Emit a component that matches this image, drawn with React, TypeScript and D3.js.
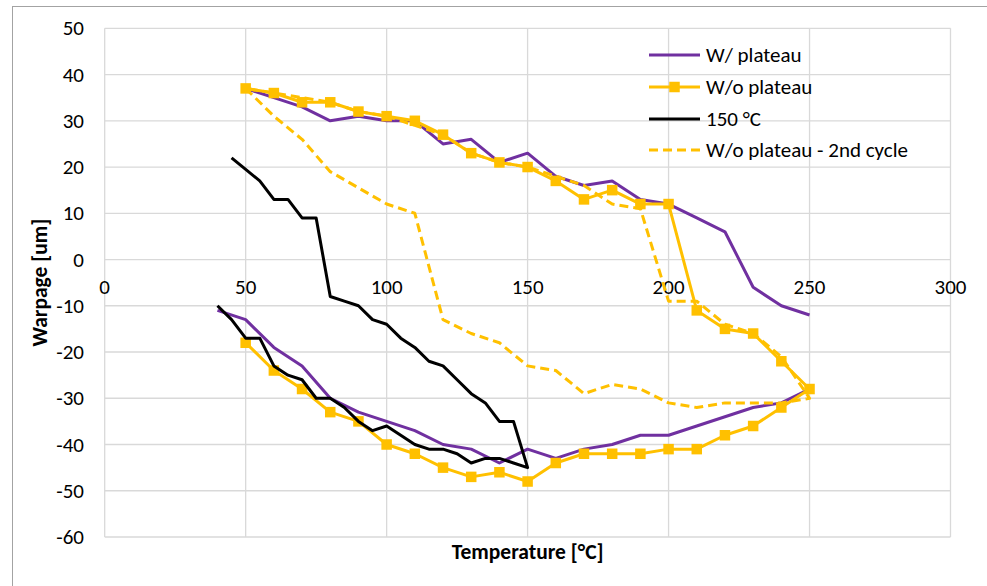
import React from 'react';
import * as d3 from 'd3';

const WIDTH = 987;
const HEIGHT = 586;

// Axis ticks
const xTicks = [0, 50, 100, 150, 200, 250, 300];
const yTicks = [-60, -50, -40, -30, -20, -10, 0, 10, 20, 30, 40, 50];

// W/ plateau (two branches, not joined)
const plateauLowerT = [40, 50, 60, 70, 80, 90, 100, 110, 120, 130, 140, 150, 160, 170, 180, 190, 200, 210, 220, 230, 240, 250];
const plateauLowerW = [-11, -13, -19, -23, -30, -33, -35, -37, -40, -41, -44, -41, -43, -41, -40, -38, -38, -36, -34, -32, -31, -28];
const plateauUpperT = [50, 60, 70, 80, 90, 100, 110, 120, 130, 140, 150, 160, 170, 180, 190, 200, 210, 220, 230, 240, 250];
const plateauUpperW = [37, 35, 33, 30, 31, 30, 30, 25, 26, 21, 23, 18, 16, 17, 13, 12, 9, 6, -6, -10, -12];

// W/o plateau
const noPlateauT = [50, 60, 70, 80, 90, 100, 110, 120, 130, 140, 150, 160, 170, 180, 190, 200, 210, 220, 230, 240, 250];
const noPlateauUpperW = [37, 36, 34, 34, 32, 31, 30, 27, 23, 21, 20, 17, 13, 15, 12, 12, -11, -15, -16, -22, -28];
const noPlateauLowerW = [-18, -24, -28, -33, -35, -40, -42, -45, -47, -46, -48, -44, -42, -42, -42, -41, -41, -38, -36, -32, -28];

// 150 °C
const peak150LowerT = [40, 45, 50, 55, 60, 65, 70, 75, 80, 85, 90, 95, 100, 105, 110, 115, 120, 125, 130, 135, 140, 145, 150];
const peak150LowerW = [-10, -13, -17, -17, -23, -25, -26, -30, -30, -32, -35, -37, -36, -38, -40, -41, -41, -42, -44, -43, -43, -44, -45];
const peak150UpperT = [150, 145, 140, 135, 130, 125, 120, 115, 110, 105, 100, 95, 90, 85, 80, 75, 70, 65, 60, 55, 50, 45];
const peak150UpperW = [-45, -35, -35, -31, -29, -26, -23, -22, -19, -17, -14, -13, -10, -9, -8, 9, 9, 13, 13, 17, 19.5, 22];

// W/o plateau - 2nd cycle
const cycle2OutT = [50, 60, 70, 80, 90, 100, 110, 120, 130, 140, 150, 160, 170, 180, 190, 200, 210, 220, 230, 240, 250];
const cycle2OutW = [37, 31, 26, 19, 15.5, 12, 10, -13, -16, -18, -23, -24, -29, -27, -28, -31, -32, -31, -31, -31, -30];
const cycle2BackT = [240, 230, 220, 210, 200, 190, 180, 170, 160, 150, 140, 130, 120, 110, 100, 90, 80, 70, 60, 50];
const cycle2BackW = [-21, -16, -14, -9, -9, 11, 12, 16, 18, 20, 21, 23, 27, 29, 31, 32, 34, 35, 36, 37];

const legendLabels = ['W/ plateau', 'W/o plateau', '150 °C', 'W/o plateau - 2nd cycle'];

const PURPLE = '#7030A0';
const GOLD = '#FFC000';
const BLACK = '#000000';
const GRID = '#d9d9d9';
const FONT = 'Carlito, Calibri, Lato, sans-serif';

type Pt = [number, number] | null;

const zip = (t: number[], w: number[]): Pt[] => t.map((v, i) => [v, w[i]] as [number, number]);

export default function App() {
  const left = 104.7;
  const right = 950.5;
  const top = 28.3;
  const bottom = 537;

  const x = d3.scaleLinear().domain([0, 300]).range([left, right]);
  const y = d3.scaleLinear().domain([-60, 50]).range([bottom, top]);

  const line = d3
    .line<Pt>()
    .defined((d) => d !== null)
    .x((d) => x((d as [number, number])[0]))
    .y((d) => y((d as [number, number])[1]));

  const plateauPts: Pt[] = [...zip(plateauLowerT, plateauLowerW), null, ...zip(plateauUpperT, plateauUpperW)];
  const noPlateauPts: Pt[] = [
    ...zip(noPlateauT, noPlateauUpperW),
    ...zip(noPlateauT, noPlateauLowerW).reverse().slice(1),
  ];
  const peak150Pts: Pt[] = [...zip(peak150LowerT, peak150LowerW), ...zip(peak150UpperT, peak150UpperW).slice(1)];
  const cycle2Pts: Pt[] = [...zip(cycle2OutT, cycle2OutW), ...zip(cycle2BackT, cycle2BackW)];

  const markerPts = noPlateauPts.filter((d) => d !== null) as [number, number][];
  const sq = 10.5;

  const legendX0 = 649;
  const legendX1 = 700;
  const legendRows = [55, 87, 119, 150];

  return (
    <svg
      width={WIDTH}
      height={HEIGHT}
      style={{ position: 'absolute', left: 0, top: 0, background: '#fff' }}
      fontFamily={FONT}
    >
      <rect x={0} y={0} width={WIDTH} height={HEIGHT} fill="#fff" />
      <rect x={12.5} y={6.5} width={WIDTH + 20} height={HEIGHT + 20} fill="none" stroke="#a3a3a3" strokeWidth={1} />

      {/* grid */}
      <g stroke={GRID} strokeWidth={1.3}>
        {yTicks.map((t) => (
          <line key={'gy' + t} x1={left} x2={right} y1={y(t)} y2={y(t)} />
        ))}
        {xTicks.map((t) => (
          <line key={'gx' + t} x1={x(t)} x2={x(t)} y1={top} y2={bottom} />
        ))}
      </g>

      {/* y tick labels */}
      <g fontSize={21} fill="#000" textAnchor="end">
        {yTicks.map((t) => (
          <text key={'ly' + t} x={84} y={y(t)} dominantBaseline="central">
            {t}
          </text>
        ))}
      </g>
      {/* x tick labels along zero line */}
      <g fontSize={21} fill="#000" textAnchor="middle">
        {xTicks.map((t) => (
          <text key={'lx' + t} x={x(t)} y={y(0) + 27} dominantBaseline="central">
            {t}
          </text>
        ))}
      </g>

      {/* axis titles */}
      <text x={(left + right) / 2} y={552} textAnchor="middle" dominantBaseline="central" fontWeight="bold" fontSize={21.5}>
        Temperature [°C]
      </text>
      <text
        transform={`translate(40,${(top + bottom) / 2}) rotate(-90)`}
        textAnchor="middle"
        dominantBaseline="central"
        fontWeight="bold"
        fontSize={21.5}
      >
        Warpage [um]
      </text>

      {/* series */}
      <path d={line(plateauPts) || ''} fill="none" stroke={PURPLE} strokeWidth={3} strokeLinejoin="round" />
      <path d={line(noPlateauPts) || ''} fill="none" stroke={GOLD} strokeWidth={3} strokeLinejoin="round" />
      {markerPts.map((d, i) => (
        <rect key={'m' + i} x={x(d[0]) - sq / 2} y={y(d[1]) - sq / 2} width={sq} height={sq} fill={GOLD} />
      ))}
      <path d={line(peak150Pts) || ''} fill="none" stroke={BLACK} strokeWidth={3} strokeLinejoin="round" />
      <path
        d={line(cycle2Pts) || ''}
        fill="none"
        stroke={GOLD}
        strokeWidth={3}
        strokeDasharray="9,5"
        strokeLinejoin="round"
      />

      {/* legend */}
      <g>
        <line x1={legendX0} x2={legendX1} y1={legendRows[0]} y2={legendRows[0]} stroke={PURPLE} strokeWidth={3} />
        <line x1={legendX0} x2={legendX1} y1={legendRows[1]} y2={legendRows[1]} stroke={GOLD} strokeWidth={3} />
        <rect
          x={(legendX0 + legendX1) / 2 - sq / 2}
          y={legendRows[1] - sq / 2}
          width={sq}
          height={sq}
          fill={GOLD}
        />
        <line x1={legendX0} x2={legendX1} y1={legendRows[2]} y2={legendRows[2]} stroke={BLACK} strokeWidth={3} />
        <line
          x1={legendX0}
          x2={legendX1}
          y1={legendRows[3]}
          y2={legendRows[3]}
          stroke={GOLD}
          strokeWidth={3}
          strokeDasharray="9,5"
        />
        {legendLabels.map((l, i) => (
          <text key={l} x={706} y={legendRows[i]} dominantBaseline="central" fontSize={21} fill="#000">
            {l}
          </text>
        ))}
      </g>
    </svg>
  );
}
